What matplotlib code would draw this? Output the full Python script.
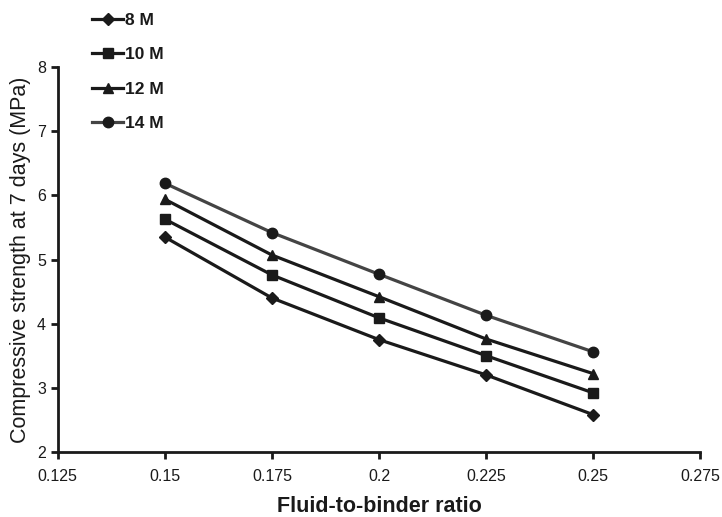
import numpy as np
import matplotlib
matplotlib.use("Agg")
import matplotlib.pyplot as plt

plt.rcParams['font.family'] = ['Liberation Sans', 'DejaVu Sans']

# fluid-to-binder ratio
ratio = [0.15, 0.175, 0.2, 0.225, 0.25]

# 7-day compressive strength (MPa) for each NaOH molarity
s_8m = [5.35, 4.40, 3.75, 3.20, 2.58]
s_10m = [5.63, 4.76, 4.09, 3.50, 2.92]
s_12m = [5.94, 5.07, 4.42, 3.76, 3.22]
s_14m = [6.19, 5.42, 4.77, 4.13, 3.56]

labels = ['8 M', '10 M', '12 M', '14 M']
x_ticks = [0.125, 0.15, 0.175, 0.2, 0.225, 0.25, 0.275]
y_ticks = [2, 3, 4, 5, 6, 7, 8]

fig = plt.figure(figsize=(7.22, 5.17), dpi=100)
ax = fig.add_axes([0.080, 0.126, 0.890, 0.744])

series = [s_8m, s_10m, s_12m, s_14m]
markers = ['D', 's', '^', 'o']
msizes = [6, 7.5, 7.5, 7.5]
colors = ['#1a1a1a', '#1a1a1a', '#1a1a1a', '#444444']
handles = []
for ys, lab, mk, ms, c in zip(series, labels, markers, msizes, colors):
    h, = ax.plot(ratio, ys, color=c, lw=2.3, marker=mk, ms=ms,
                 markerfacecolor='#1a1a1a', markeredgecolor='#1a1a1a', label=lab)
    handles.append(h)

ax.set_xlim(0.125, 0.275)
ax.set_ylim(2, 8)
ax.set_xticks(x_ticks)
ax.set_xticklabels([f"{v:g}" for v in x_ticks])
ax.set_yticks(y_ticks)
for side in ['top', 'right']:
    ax.spines[side].set_visible(False)
for side in ['left', 'bottom']:
    ax.spines[side].set_linewidth(2)
    ax.spines[side].set_color('#1a1a1a')
ax.tick_params(axis='both', labelsize=11.5, width=2, length=5, color='#1a1a1a',
               labelcolor='#1a1a1a', direction='out')
ax.tick_params(axis='x', pad=7)

ax.set_xlabel('Fluid-to-binder ratio', fontsize=15.5, fontweight='bold',
              color='#1a1a1a', labelpad=9)
ax.set_ylabel('Compressive strength at 7 days (MPa)', fontsize=15.5,
              color='#1a1a1a', labelpad=4)

fig.legend(handles=handles, loc='upper left', bbox_to_anchor=(0.106, 1.005),
           frameon=False, handlelength=1.8, handletextpad=0.1, labelspacing=1.1,
           prop={'weight': 'bold', 'size': 12.5}, labelcolor='#1a1a1a')

fig.savefig('out.png', dpi=100)
